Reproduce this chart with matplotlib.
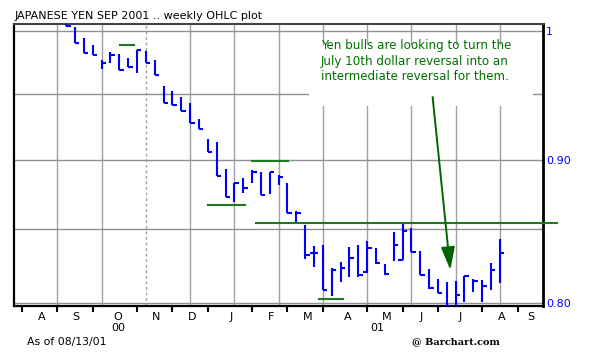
import matplotlib
matplotlib.use("Agg")
from matplotlib import pyplot as plt
from matplotlib.patches import Rectangle
import numpy as np

# weekly bars, x = week number counted from the start of Aug 2000
weeks = np.arange(5, 55)
highs = [1.0124, 1.0033, 0.9943, 0.9886, 0.9765, 0.9829, 0.9813, 0.9781, 0.9845, 0.9837,
         0.9765, 0.9559, 0.9520, 0.9473, 0.9427, 0.9304, 0.9153, 0.9131, 0.8931, 0.8829,
         0.8865, 0.8923, 0.8909, 0.8909, 0.8887, 0.8829, 0.8629, 0.8530, 0.8385, 0.8392,
         0.8235, 0.8275, 0.8378, 0.8392, 0.8419, 0.8371, 0.8262, 0.8481, 0.8537, 0.8509,
         0.8350, 0.8228, 0.8161, 0.8141, 0.8147, 0.8181, 0.8161, 0.8154, 0.8269, 0.8433]
lows = [1.0041, 0.9902, 0.9821, 0.9805, 0.9693, 0.9741, 0.9685, 0.9709, 0.9662, 0.9741,
        0.9646, 0.9427, 0.9412, 0.9366, 0.9274, 0.9228, 0.9056, 0.8880, 0.8728, 0.8692,
        0.8757, 0.8829, 0.8742, 0.8750, 0.8814, 0.8614, 0.8544, 0.8296, 0.8242, 0.8088,
        0.8048, 0.8141, 0.8174, 0.8174, 0.8201, 0.8262, 0.8188, 0.8282, 0.8289, 0.8343,
        0.8188, 0.8094, 0.8068, 0.7982, 0.7982, 0.8009, 0.8074, 0.8009, 0.8088, 0.8134]
closes = [1.0041, 0.9902, 0.9821, 0.9805, 0.9741, 0.9805, 0.9685, 0.9709, 0.9845, 0.9741,
          0.9646, 0.9427, 0.9412, 0.9366, 0.9274, 0.9228, 0.9056, 0.8880, 0.8728, 0.8829,
          0.8793, 0.8909, 0.8742, 0.8909, 0.8872, 0.8614, 0.8614, 0.8323, 0.8337, 0.8088,
          0.8221, 0.8235, 0.8303, 0.8188, 0.8371, 0.8269, 0.8194, 0.8392, 0.8488, 0.8343,
          0.8188, 0.8101, 0.8068, 0.7982, 0.8054, 0.8181, 0.8147, 0.8114, 0.8221, 0.8337]
opens = [np.nan] * 50
opens[28] = 0.8337
opens[34] = 0.8208
opens[38] = 0.8289

# support / resistance lines drawn by the analyst
level_prices = [0.9886, 0.8989, 0.8671, 0.8544, 0.8028]
level_starts = [11.1, 26.0, 21.0, 26.4, 33.6]
level_ends = [12.7, 30.1, 25.2, 60.5, 36.3]

month_ticks = [0, 4, 8, 13, 17, 21, 26, 30, 34, 39, 43, 47, 52, 56]
month_labels = ["A", "S", "O", "N", "D", "J", "F", "M", "A", "M", "J", "J", "A", "S"]
month_label_pos = [2.2, 6.1, 10.8, 15.2, 19.2, 23.6, 28.1, 32.3, 36.8, 41.2, 45.1, 49.5, 54.2, 57.5]
grid_weeks = [4, 9, 14, 19, 24, 29, 34, 39, 44, 49, 54]
price_grid = [0.80, 0.85, 0.90, 0.95, 1.0]
price_ticks = [0.80, 0.90, 1.0]
price_labels = ["0.80", "0.90", "1"]

blue = "#0000ff"
green = "#1f7a1f"

fig = plt.figure(figsize=(6, 3.53), dpi=100)
ax = fig.add_axes([14 / 600, 1 - 306 / 353, 529 / 600, 282 / 353])
ax.set_yscale("log")
ax.set_xlim(-0.9, 58.87)
ax.set_ylim(0.7982, 1.0058)

for w in grid_weeks:
    ls = (0, (2, 2)) if w == 14 else "-"
    ax.axvline(w, color="#a0a0a0", lw=1, ls=ls, zorder=0)
for p in price_grid:
    ax.axhline(p, color="#909090", lw=1, zorder=0)

# white box behind the comment
ax.add_patch(Rectangle((309 / 600, 1 - 106 / 353), 224 / 600, 61 / 353,
                       transform=fig.transFigure, facecolor="white",
                       edgecolor="none", zorder=1))

ax.vlines(weeks, lows, highs, colors=blue, lw=1.5, zorder=3)
ax.hlines(closes, weeks, weeks + 0.5, colors=blue, lw=1.5, zorder=3)
ax.hlines(opens, weeks - 0.5, weeks, colors=blue, lw=1.5, zorder=3)

for p, a, b in zip(level_prices, level_starts, level_ends):
    ax.plot([a, b], [p, p], color=green, lw=1.5, zorder=4, clip_on=False)

ax.text(321 / 600, 1 - 61 / 353,
        "Yen bulls are looking to turn the\nJuly 10th dollar reversal into an\n"
        "intermediate reversal for them.",
        transform=fig.transFigure, color="#007000", fontsize=8.6,
        va="center", ha="left", linespacing=1.2, zorder=5)
ax.annotate("", xy=(48.4, 0.8221), xytext=(46.4, 0.9473),
            arrowprops=dict(arrowstyle="-|>,head_length=1.0,head_width=0.3",
                            mutation_scale=14, color="#006400", lw=1.4,
                            shrinkA=0, shrinkB=0), zorder=5)

# axes frame
for side in ["left", "bottom"]:
    ax.spines[side].set_color("black")
    ax.spines[side].set_linewidth(1.6)
ax.spines["right"].set_color("black")
ax.spines["right"].set_linewidth(2)
ax.spines["top"].set_color("#444444")
ax.spines["top"].set_linewidth(1.5)

ax.yaxis.tick_right()
ax.yaxis.set_minor_locator(matplotlib.ticker.NullLocator())
ax.set_yticks(price_ticks)
ax.set_yticklabels(price_labels)
ax.tick_params(axis="y", length=0, pad=2, labelsize=8, labelcolor=blue)

ax.set_xticks(month_ticks)
ax.set_xticklabels([""] * len(month_ticks))
ax.tick_params(axis="x", which="major", direction="out", length=4, width=1.5)
ax.set_xticks(month_label_pos, minor=True)
ax.set_xticklabels(month_labels, minor=True)
ax.tick_params(axis="x", which="minor", length=0, pad=4, labelsize=8)

fig.text(118 / 600, 1 - 328 / 353, "00", ha="center", va="center", fontsize=8)
fig.text(377 / 600, 1 - 328 / 353, "01", ha="center", va="center", fontsize=8)

fig.text(15 / 600, 1 - 16 / 353, "JAPANESE YEN SEP 2001 .. weekly OHLC plot",
         ha="left", va="center", fontsize=8)
fig.text(27 / 600, 1 - 342 / 353, "As of 08/13/01", ha="left", va="center", fontsize=7.8)
fig.text(456 / 600, 1 - 342 / 353, "@ Barchart.com", ha="center", va="center",
         fontsize=7, family="DejaVu Serif", weight="bold")

fig.savefig("out.png", dpi=100)
